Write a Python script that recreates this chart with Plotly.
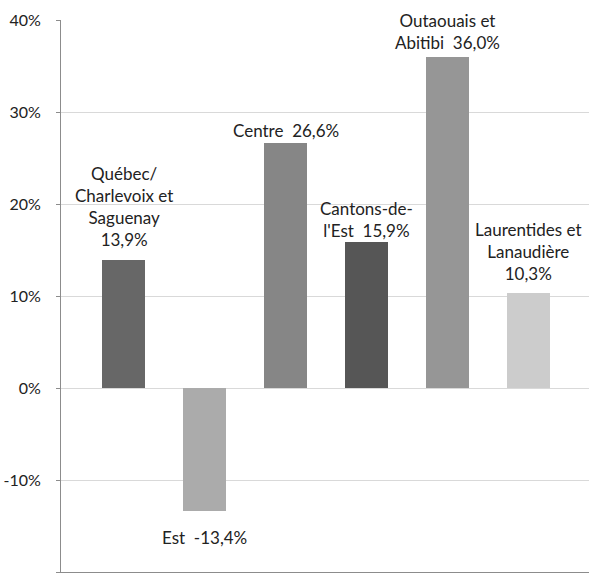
import plotly.graph_objects as go

# Regional change, in percent
regions = [
    "Québec/<br>Charlevoix et<br>Saguenay",
    "Est",
    "Centre",
    "Cantons-de-<br>l'Est",
    "Outaouais et<br>Abitibi",
    "Laurentides et<br>Lanaudière",
]
values = [13.9, -13.4, 26.6, 15.9, 36.0, 10.3]
bar_colors = ["#676767", "#ababab", "#868686", "#565656", "#969696", "#cccccc"]
value_sep = ["<br>", "  ", "  ", "  ", "  ", "<br>"]
label_shift = [8, -14, 0, -1, 2, 7]

tick_vals = [-20, -10, 0, 10, 20, 30, 40]
tick_text = ["-20%", "-10%", "0%", "10%", "20%", "30%", "40%"]

xs = list(range(len(values)))

fig = go.Figure()
fig.add_trace(go.Bar(
    x=xs, y=values, width=0.53,
    marker=dict(color=bar_colors, line=dict(width=0)),
    hoverinfo="skip",
))

font = dict(family="Lato, 'Open Sans', sans-serif", size=17, color="#222222")

for i, (name, v) in enumerate(zip(regions, values)):
    pct = f"{v:.1f}".replace(".", ",") + "%"
    fig.add_annotation(
        x=i, y=v, text=name + value_sep[i] + pct,
        showarrow=False, font=font, align="center",
        yanchor="bottom" if v >= 0 else "top",
        yshift=label_shift[i],
    )

fig.update_layout(
    width=589, height=578,
    margin=dict(l=61, r=0, t=20, b=6),
    paper_bgcolor="white", plot_bgcolor="white",
    showlegend=False, bargap=0,
    xaxis=dict(
        range=[-0.772, 5.747], showticklabels=False, showgrid=False,
        zeroline=False, showline=True, linecolor="#8c8c8c", linewidth=1,
        ticks="",
    ),
    yaxis=dict(
        range=[-20, 40], tickvals=tick_vals, ticktext=tick_text,
        showgrid=True, gridcolor="#d9d9d9", gridwidth=1,
        zeroline=False, showline=True, linecolor="#8c8c8c", linewidth=1,
        ticks="outside", ticklen=4, tickcolor="#8c8c8c",
        ticklabelstandoff=12,
        tickfont=dict(family="Lato, 'Open Sans', sans-serif", size=16, color="#222222"),
    ),
)

fig.write_html("out.html")
